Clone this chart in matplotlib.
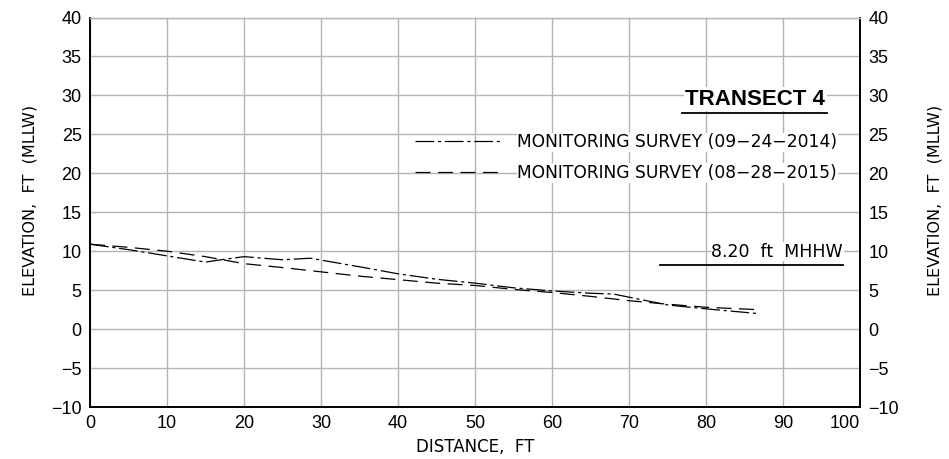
import matplotlib
matplotlib.use('Agg')
import matplotlib.pyplot as plt
from matplotlib.lines import Line2D

# survey profiles (distance ft, elevation ft MLLW)
dist_2014 = [0, 5, 10, 15, 17, 20, 25, 28.6, 35, 40, 45, 50, 55, 60, 65, 68, 70, 75, 80, 86.7]
elev_2014 = [10.9, 10.2, 9.4, 8.6, 8.9, 9.3, 8.9, 9.1, 8.0, 7.1, 6.4, 5.9, 5.3, 4.9, 4.6, 4.5, 4.1, 3.1, 2.6, 2.0]
dist_2015 = [0, 5, 10, 15, 20, 25, 30, 35, 40, 45, 50, 55, 60, 65, 70, 75, 80, 86.7]
elev_2015 = [10.9, 10.5, 10.0, 9.3, 8.4, 7.9, 7.35, 6.8, 6.35, 5.9, 5.6, 5.1, 4.7, 4.2, 3.65, 3.2, 2.8, 2.5]
labels = ['MONITORING SURVEY (09\u221224\u22122014)', 'MONITORING SURVEY (08\u221228\u22122015)']

mhhw = 8.20
mhhw_x = [74, 97.8]

xticks = list(range(0, 101, 10))
yticks = list(range(-10, 41, 5))

cad = 'DejaVu Sans'
num = 'Liberation Sans'

fig = plt.figure(figsize=(9.49, 4.59), dpi=100)
ax = fig.add_axes([90 / 949, 52 / 459, 770 / 949, 389.5 / 459])

ax.set_xlim(0, 100)
ax.set_ylim(-10, 40)
ax.set_xticks(xticks)
ax.set_yticks(yticks)
ax.grid(True, color='#b4b4b4', linewidth=1.0)
ax.set_axisbelow(True)

for s in ['left', 'right', 'bottom']:
    ax.spines[s].set_color('black')
    ax.spines[s].set_linewidth(1.4)
ax.spines['top'].set_color('#b4b4b4')
ax.spines['top'].set_linewidth(1.0)

ax.tick_params(length=0, labelsize=13, pad=6, labelright=True, labelleft=True)
for lab in ax.get_xticklabels() + ax.get_yticklabels():
    lab.set_fontfamily(num)
xl = ax.get_xticklabels()
xl[-1].set_ha('right')

dd = (0, (15, 3, 2.5, 3))
dsh = (0, (12, 6))
ax.plot(dist_2014, elev_2014, color='black', lw=0.9, linestyle=dd)
ax.plot(dist_2015, elev_2015, color='black', lw=0.9, linestyle=dsh)

# MHHW line
ax.plot(mhhw_x, [mhhw, mhhw], color='black', lw=1.3)
ax.text(mhhw_x[1], mhhw + 0.6, '8.20  ft  MHHW', ha='right', va='bottom', fontsize=12.5,
        family=cad, bbox=dict(facecolor='white', edgecolor='none', pad=0.5))

# title
title = ax.text(95.5, 29.5, 'TRANSECT 4', ha='right', va='center', fontsize=16,
                fontweight='bold', family=num,
                bbox=dict(facecolor='white', edgecolor='none', pad=1))

handles = [Line2D([], [], color='black', lw=0.9, linestyle=dd),
           Line2D([], [], color='black', lw=0.9, linestyle=dsh)]
leg = ax.legend(handles, labels, loc='center left', bbox_to_anchor=(42.2, 22.0),
                bbox_transform=ax.transData, frameon=False,
                handlelength=5.0, handletextpad=1.0, labelspacing=0.75,
                borderpad=0, borderaxespad=0, prop={'family': cad, 'size': 12.3})
for t in leg.get_texts():
    t.set_bbox(dict(facecolor='white', edgecolor='none', pad=0.5))

ax.set_xlabel('DISTANCE,  FT', fontsize=12, family=cad, labelpad=4)
fig.text(30 / 949, 1 - 200 / 459, 'ELEVATION,  FT  (MLLW)', rotation=90, fontsize=11.5,
         family=cad, ha='center', va='center')
fig.text(935 / 949, 1 - 200 / 459, 'ELEVATION,  FT  (MLLW)', rotation=90, fontsize=11.5,
         family=cad, ha='center', va='center')

# underline the title
fig.canvas.draw()
bb = title.get_window_extent()
fig.add_artist(Line2D([(bb.x0 - 3) / fig.bbox.width, (bb.x1 + 2) / fig.bbox.width],
                      [(bb.y0 - 3) / fig.bbox.height] * 2, color='black', lw=1.3))

fig.savefig('out.png', dpi=100)
